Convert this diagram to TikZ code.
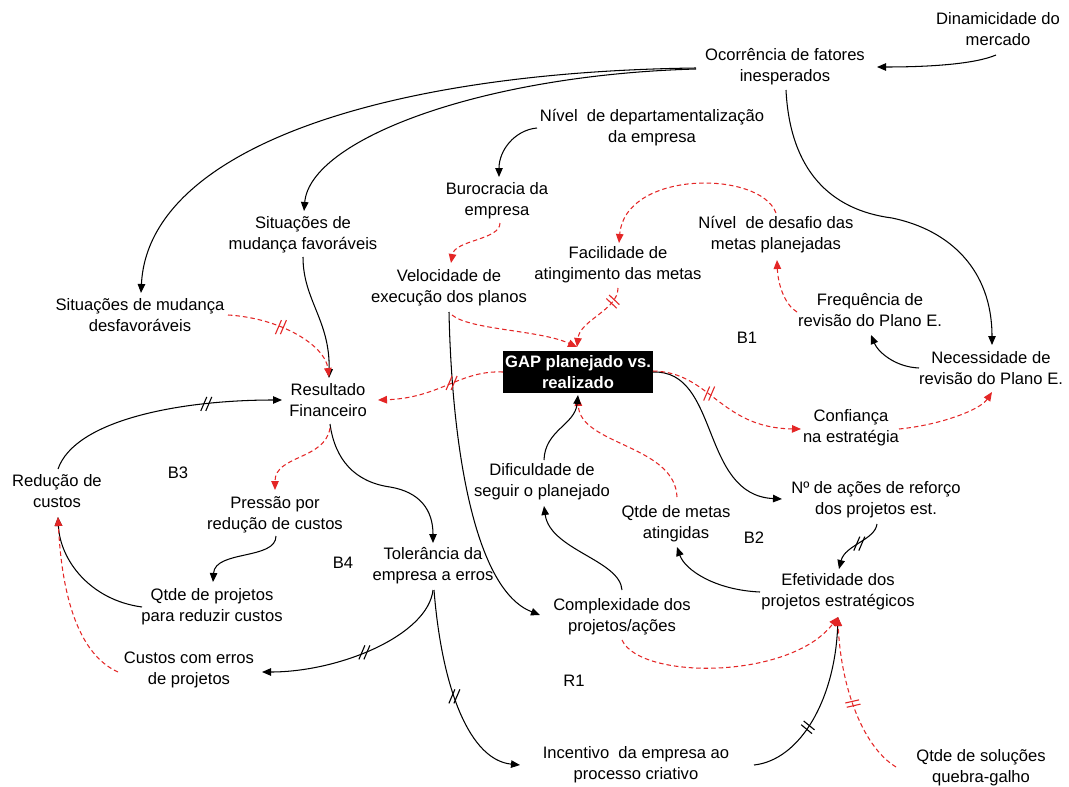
\documentclass[tikz,border=0pt]{standalone}
\usepackage{fontspec}
\setmainfont{Liberation Sans}
\usetikzlibrary{arrows.meta,decorations.markings}
\definecolor{crim}{RGB}{228,38,38}
\newcommand\lblfont{\fontsize{16.6}{21.2}\selectfont}
\begin{document}
\begin{tikzpicture}[x=1pt,y=-1pt,
  lbl/.style={align=center, inner sep=0pt, font=\lblfont},
  gapbox/.style={fill=black, text=white, align=center, font=\lblfont\bfseries,
                 minimum width=150pt, minimum height=42pt, inner sep=1pt},
  plink/.style={color=black, line width=1.05pt, -{Triangle[length=9pt,width=7.5pt]}},
  nlink/.style={color=crim, line width=1.05pt, dash pattern=on 4.5pt off 3pt,
              -{Triangle[length=9pt,width=7.5pt]}},
  % delay mark drawn as a fixed slanted "//"
  delay/.style={postaction={decorate}, decoration={markings, mark=at position #1 with
      {\pgftransformresetnontranslations
       \draw[solid,-,line width=1.1pt] (-5.5pt,-7pt)--(0.5pt,7pt) (-0.5pt,-7pt)--(5.5pt,7pt);}}},
  % delay mark drawn across the connector
  delayx/.style={postaction={decorate}, decoration={markings, mark=at position #1 with
      {\draw[solid,-,line width=1.1pt] (-3pt,-7pt)--(-1.5pt,7pt) (1.5pt,-7pt)--(3pt,7pt);}}}
]
\useasboundingbox (0,0) rectangle (1069,787);
\fill[white] (0,0) rectangle (1069,787);

% variables
\node[lbl] (din)   at (998,29)  {Dinamicidade do\\mercado};
\node[lbl] (oco)   at (785,67)  {Ocorrência de fatores\\inesperados};
\node[lbl] (dep)   at (652,128) {Nível\ \ de departamentalização\\da empresa};
\node[lbl] (bur)   at (497,201) {Burocracia da\\empresa};
\node[lbl] (sfav)  at (303,235) {Situações de\\mudança favoráveis};
\node[lbl] (vel)   at (449,288) {Velocidade de\\execução dos planos};
\node[lbl] (sdes)  at (140,315) {Situações de mudança\\desfavoráveis};
\node[lbl] (fac)   at (618,265) {Facilidade de\\atingimento das metas};
\node[lbl] (des)   at (776,235) {Nível\ \ de desafio das\\metas planejadas};
\node[lbl] (freq)  at (870,310) {Frequência de\\revisão do Plano E.};
\node[lbl] (nec)   at (991,368) {Necessidade de\\revisão do Plano E.};
\node[gapbox] (gap) at (578,372) {GAP planejado vs.\\realizado};
\node[lbl] (res)   at (328,400) {Resultado\\Financeiro};
\node[lbl] (conf)  at (851,428) {Confiança\\na estratégia};
\node[lbl] (red)   at (57,491)  {Redução de\\custos};
\node[lbl] (dif)   at (542,482) {Dificuldade de\\seguir o planejado};
\node[lbl] (qmet)  at (676,524) {Qtde de metas\\atingidas};
\node[lbl] (acoes) at (876,500) {Nº de ações de reforço\\dos projetos est.};
\node[lbl] (pres)  at (275,515) {Pressão por\\redução de custos};
\node[lbl] (tol)   at (433,566) {Tolerância da\\empresa a erros};
\node[lbl] (qproj) at (212,607) {Qtde de projetos\\para reduzir custos};
\node[lbl] (efet)  at (838,592) {Efetividade dos\\projetos estratégicos};
\node[lbl] (comp)  at (622,617) {Complexidade dos\\projetos/ações};
\node[lbl] (cust)  at (189,670) {Custos com erros\\de projetos};
\node[lbl] (inc)   at (636,765) {Incentivo\ \ da empresa ao\\processo criativo};
\node[lbl] (sol)   at (981,768) {Qtde de soluções\\quebra-galho};

% loop labels
\node[lbl] (b1) at (747,338) {B1};
\node[lbl] (b2) at (754,538) {B2};
\node[lbl] (b3) at (178,473) {B3};
\node[lbl] (b4) at (343,563) {B4};
\node[lbl] (r1) at (574,681) {R1};

% same-direction links
\draw[plink] ([shift={(-2,26)}]din.center) .. controls (975,64) and (930,67) .. ([shift={(92,0)}]oco.center);
\draw[plink] ([shift={(-89,1)}]oco.center) .. controls (380,72) and (148,150) .. ([shift={(1,-22)}]sdes.center);
\draw[plink] ([shift={(-89,2)}]oco.center) .. controls (480,75) and (310,140) .. ([shift={(1,-24)}]sfav.center);
\draw[plink] ([shift={(1,23)}]oco.center) .. controls (790,170) and (830,210) .. (892,218)
           .. controls (950,230) and (992,270) .. ([shift={(1,-23)}]nec.center);
\draw[plink] ([shift={(-115,0)}]dep.center) .. controls (515,130) and (499,150) .. ([shift={(2,-24)}]bur.center);
\draw[plink] ([shift={(-72,0)}]nec.center) .. controls (895,367) and (878,352) .. ([shift={(1,25)}]freq.center);
\draw[plink] (gap.east) .. controls (720,370) and (700,495) .. ([shift={(-94,-1)}]acoes.center);
\draw[plink,delay=0.45] ([shift={(1,24)}]acoes.center) .. controls (875,540) and (845,545) .. ([shift={(1,-23)}]efet.center);
\draw[plink] ([shift={(-78,0)}]efet.center) .. controls (715,590) and (685,570) .. ([shift={(1,23)}]qmet.center);
\draw[plink] ([shift={(0,-27)}]comp.center) .. controls (620,560) and (550,550) .. ([shift={(2,24)}]dif.center);
\draw[plink] ([shift={(0,24)}]vel.center) .. controls (452,450) and (475,590) .. ([shift={(-82,-2)}]comp.center);
\draw[plink] ([shift={(0,22)}]sfav.center) .. controls (303,300) and (330,320) .. ([shift={(1,-22)}]res.center);
\draw[plink,delay=0.69] ([shift={(1,-22)}]red.center) .. controls (75,420) and (180,400) .. ([shift={(-46,0)}]res.center);
\draw[plink] ([shift={(2,24)}]res.center) .. controls (335,460) and (355,482) .. (390,487)
           .. controls (420,492) and (433,510) .. ([shift={(0,-23)}]tol.center);
\draw[plink] ([shift={(1,21)}]pres.center) .. controls (276,560) and (215,550) .. ([shift={(1,-25)}]qproj.center);
\draw[plink] ([shift={(-70,0)}]qproj.center) .. controls (90,600) and (60,560) .. ([shift={(1,26)}]red.center);
\draw[plink,delay=0.48] ([shift={(0,24)}]tol.center) .. controls (428,635) and (340,672) .. ([shift={(73,2)}]cust.center);
\draw[plink,delay=0.52] ([shift={(1,24)}]tol.center) .. controls (442,690) and (470,760) .. ([shift={(-116,0)}]inc.center);
\draw[plink,delayx=0.37] ([shift={(118,0)}]inc.center) .. controls (800,760) and (835,700) .. ([shift={(0,25)}]efet.center);

% opposite-direction links
\draw[nlink,delay=0.43] ([shift={(88,0)}]sdes.center) .. controls (280,318) and (325,345) .. ([shift={(1,-23)}]res.center);
\draw[nlink,delay=0.41] (gap.west) .. controls (460,370) and (440,398) .. ([shift={(50,0)}]res.center);
\draw[nlink] ([shift={(2,28)}]res.center) .. controls (325,460) and (275,455) .. ([shift={(0,-25)}]pres.center);
\draw[nlink] ([shift={(-71,2)}]cust.center) .. controls (80,655) and (62,600) .. ([shift={(1,26)}]red.center);
\draw[nlink,delayx=0.47] ([shift={(-85,-1)}]sol.center) .. controls (860,745) and (840,680) .. ([shift={(0,25)}]efet.center);
\draw[nlink] ([shift={(0,23)}]comp.center) .. controls (640,680) and (790,680) .. ([shift={(0,25)}]efet.center);
\draw[nlink,delay=0.38] ([shift={(75,-1)}]gap.center) .. controls (710,372) and (720,428) .. ([shift={(-50,1)}]conf.center);
\draw[nlink] ([shift={(48,1)}]conf.center) .. controls (940,425) and (980,410) .. ([shift={(1,24)}]nec.center);
\draw[nlink] ([shift={(-73,2)}]freq.center) .. controls (785,305) and (778,285) .. ([shift={(1,25)}]des.center);
\draw[nlink] ([shift={(0,-22)}]des.center) .. controls (760,170) and (625,170) .. ([shift={(1,-22)}]fac.center);
\draw[nlink,delayx=0.2] ([shift={(0,23)}]fac.center) .. controls (618,310) and (580,320) .. ([shift={(-1,-25)}]gap.center);
\draw[nlink] ([shift={(3,27)}]vel.center) .. controls (470,330) and (540,330) .. ([shift={(-1,-25)}]gap.center);
\draw[nlink] ([shift={(3,22)}]bur.center) .. controls (500,240) and (455,240) .. ([shift={(2,-25)}]vel.center);
\draw[nlink] ([shift={(1,-27)}]qmet.center) .. controls (675,445) and (580,445) .. ([shift={(0,25)}]gap.center);

\draw[plink] ([shift={(2,-22)}]dif.center) .. controls (545,430) and (575,425) .. ([shift={(0,23)}]gap.center);
\end{tikzpicture}
\end{document}
